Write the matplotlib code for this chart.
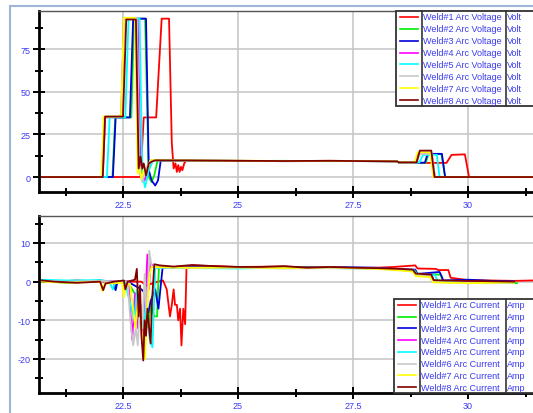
import matplotlib
matplotlib.use("Agg")
import matplotlib.pyplot as plt
from matplotlib.lines import Line2D
from matplotlib.patches import Rectangle
from matplotlib.ticker import MultipleLocator, FormatStrFormatter

W, H = 533, 414

colors = ["#ff0000", "#00ee00", "#0000dd", "#ff00ff", "#00ffff", "#c8c8c8", "#ffff00", "#800000"]
volt_names = ["Weld#%d Arc Voltage" % i for i in range(1, 9)]
amp_names = ["Weld#%d Arc Current" % i for i in range(1, 9)]
volt_unit = "Volt"
amp_unit = "Amp"

# ---- arc voltage (time s, volt) ----
v1_t = [20.67, 22.0, 22.88, 22.95, 23.22, 23.34, 23.5, 23.56, 23.6, 23.64, 23.67, 23.7, 23.73, 23.76, 23.79, 23.83, 23.88, 24.0, 25.0, 26.0, 27.0, 28.0, 28.45, 28.5, 29.53, 29.64, 29.93, 30.02, 31.41]
v1_v = [0, 0, 0, 35, 35, 93, 93, 20, 5, 8, 3, 7, 3, 6, 4, 8, 10, 9.6, 9.5, 9.4, 9.5, 9.4, 9.3, 8.3, 8.3, 13, 13.3, 0, 0]
v2_t = [20.67, 22.27, 22.33, 22.68, 22.74, 22.98, 23.06, 23.12, 23.18, 23.25, 24.0, 25.0, 26.0, 27.0, 28.0, 28.45, 28.5, 29.08, 29.14, 29.42, 29.5, 31.41]
v2_v = [0, 0, 35, 35, 93, 93, 0, -3, 1, 9.8, 9.6, 9.4, 9.5, 9.3, 9.4, 9.2, 8.4, 8.4, 13.5, 13.5, 0, 0]
v3_t = [20.67, 22.28, 22.34, 22.65, 22.72, 23.0, 23.06, 23.12, 23.2, 23.26, 23.32, 24.0, 25.0, 26.0, 27.0, 28.0, 28.45, 28.5, 29.06, 29.12, 29.43, 29.5, 31.41]
v3_v = [0, 0, 35, 35, 93, 93, 4, -2, -5, -2, 9.7, 9.6, 9.5, 9.3, 9.4, 9.3, 9.2, 8.4, 8.4, 13.6, 13.6, 0, 0]
v4_t = [20.67, 22.06, 22.11, 22.46, 22.52, 22.82, 22.88, 22.97, 23.05, 23.12, 24.0, 25.0, 26.0, 27.0, 28.0, 28.45, 28.5, 28.86, 28.92, 29.2, 29.28, 31.41]
v4_v = [0, 0, 35, 35, 93, 93, 3, -2, 4, 9.9, 9.6, 9.5, 9.4, 9.5, 9.3, 9.2, 8.5, 8.5, 14, 14, 0, 0]
v5_t = [20.67, 22.15, 22.21, 22.55, 22.62, 22.86, 22.92, 22.98, 23.05, 23.15, 24.0, 25.0, 26.0, 27.0, 28.0, 28.45, 28.5, 28.94, 29.02, 29.32, 29.38, 31.41]
v5_v = [0, 0, 35, 35, 93, 93, 1, -6, 3, 9.8, 9.6, 9.5, 9.4, 9.4, 9.3, 9.2, 8.5, 8.5, 13, 13, 0, 0]
v6_t = [20.67, 22.05, 22.1, 22.46, 22.52, 22.8, 22.86, 22.92, 23.0, 23.1, 24.0, 25.0, 26.0, 27.0, 28.0, 28.45, 28.5, 28.88, 28.95, 29.22, 29.28, 31.41]
v6_v = [0, 0, 35.5, 35.5, 93.5, 93.5, 3, -3, 5, 9.9, 9.7, 9.5, 9.4, 9.5, 9.3, 9.2, 8.5, 8.5, 13.5, 13.5, 0, 0]
v7_t = [20.67, 22.03, 22.08, 22.46, 22.52, 22.76, 22.82, 22.86, 22.9, 22.95, 23.0, 23.1, 24.0, 25.0, 26.0, 27.0, 28.0, 28.45, 28.5, 28.84, 28.9, 29.18, 29.24, 31.41]
v7_v = [0, 0, 35.5, 35.5, 93.5, 93.5, 2, 6, -1, 4, 2, 9.9, 9.7, 9.6, 9.4, 9.5, 9.3, 9.2, 8.6, 8.6, 14.5, 14.5, 0, 0]
v8_t = [20.67, 22.06, 22.11, 22.5, 22.57, 22.78, 22.84, 22.88, 22.92, 22.95, 23.0, 23.06, 23.12, 23.2, 24.0, 25.0, 26.0, 27.0, 28.0, 28.45, 28.5, 28.88, 28.95, 29.2, 29.27, 31.41]
v8_v = [0, 0, 35.5, 35.5, 92.5, 92.5, 5, 12, 5, 8, 1, 8, 9, 9.8, 9.7, 9.5, 9.4, 9.5, 9.3, 9.2, 8.6, 8.6, 15.5, 15.5, 0, 0]

# ---- arc current (time s, amp) ----
a1_t = [20.67, 21.0, 21.5, 22.0, 22.5, 22.9, 23.0, 23.26, 23.37, 23.45, 23.52, 23.56, 23.6, 23.63, 23.67, 23.7, 23.74, 23.77, 23.81, 23.85, 23.88, 24.0, 24.5, 25.0, 26.0, 27.0, 28.0, 28.4, 28.5, 28.85, 28.9, 29.3, 29.35, 29.57, 29.62, 30.0, 30.5, 31.0, 31.41]
a1_v = [0.3, 0, 0.3, 0, 0, 0, -1, 0, 0.3, -2, -9, -6, -2, -6, -6, -10, -7, -16.5, -7, -11, 3.8, 4.2, 4.0, 3.8, 3.9, 3.5, 3.6, 3.8, 3.9, 4.2, 3.4, 3.3, 3.0, 3.0, 1.0, 0.4, 0.3, 0.2, 0.3]
a2_t = [20.67, 21.3, 22.0, 22.3, 22.33, 22.37, 22.6, 22.85, 22.92, 22.98, 23.05, 23.1, 23.18, 23.24, 23.28, 24.0, 25.0, 26.0, 27.0, 28.0, 28.5, 28.85, 28.9, 29.4, 29.45, 30.0, 30.5, 31.06]
a2_v = [0.2, -0.3, 0.2, 0, -2, 0, 0, -5, -15, -8, -12, -6, -9, -9, 3.8, 3.7, 3.6, 3.7, 3.6, 3.5, 3.2, 3.0, 2.0, 1.8, 0.2, 0, -0.2, -0.4]
a3_t = [20.67, 21.3, 22.0, 22.3, 22.34, 22.38, 22.6, 22.9, 22.98, 23.05, 23.1, 23.2, 23.27, 23.32, 23.36, 24.0, 25.0, 26.0, 27.0, 28.0, 28.5, 28.85, 28.9, 29.38, 29.42, 29.46, 30.0, 30.5, 31.0]
a3_v = [0, -0.2, 0.3, 0, -2.2, 0, 0, -2, -3, -8, -5, -2, -7, -1, 3.6, 3.8, 3.7, 3.6, 3.8, 3.6, 3.2, 3.1, 2.0, 2.5, 1.5, 0.3, 0.5, 0.2, 0.1]
a4_t = [20.67, 21.3, 22.0, 22.5, 22.62, 22.7, 22.76, 22.82, 22.88, 22.94, 22.99, 23.03, 23.06, 23.1, 23.15, 24.0, 25.0, 26.0, 27.0, 28.0, 28.5, 28.82, 28.88, 29.2, 29.26, 30.0, 30.5, 31.0]
a4_v = [0.2, 0, 0.2, 0, 0, -15, -3, -12, -6, -17, -3, 7, -2, 5, 3.8, 3.6, 3.7, 3.5, 3.6, 3.5, 3.2, 3.0, 1.9, 1.8, 0.2, 0, -0.2, 0]
a5_t = [20.67, 21.3, 22.0, 22.2, 22.28, 22.33, 22.55, 22.6, 22.75, 22.8, 22.95, 23.0, 23.08, 23.14, 23.2, 23.3, 24.0, 25.0, 26.0, 27.0, 28.0, 28.5, 28.83, 28.9, 29.28, 29.34, 30.0, 30.5, 30.9]
a5_v = [0.5, 0.3, 0.4, 0, -2, 0, 0, -3, -10, -2, -12, -5, -15, -17, 3.5, 3.6, 3.5, 3.4, 3.6, 3.5, 3.4, 3.1, 2.9, 1.9, 1.7, 0.1, -0.3, -0.2, -0.4]
a6_t = [20.67, 21.3, 22.0, 22.5, 22.6, 22.66, 22.72, 22.78, 22.82, 22.87, 22.92, 22.97, 23.02, 23.07, 23.12, 23.2, 24.0, 25.0, 26.0, 27.0, 28.0, 28.5, 28.8, 28.86, 29.2, 29.26, 30.0, 30.5, 31.0]
a6_v = [0.2, 0, 0.2, 0, 0, -10, -16.5, -12, -16.5, -5, -12, 2, -10, 8, 4, 3.7, 3.5, 3.6, 3.4, 3.5, 3.3, 3.0, 2.7, 1.7, 1.5, -0.1, -0.3, -0.4, -0.3]
a7_t = [20.67, 21.3, 22.0, 22.05, 22.1, 22.48, 22.52, 22.56, 22.65, 22.7, 22.77, 22.85, 22.9, 22.98, 23.02, 23.08, 23.12, 24.0, 25.0, 26.0, 27.0, 28.0, 28.5, 28.8, 28.86, 29.18, 29.24, 30.0, 30.5, 31.0]
a7_v = [0, -0.3, 0, -2.5, -0.5, -0.3, -4, -1, -0.5, -5, -12, -2, -12, -20, -8, 2, 3.8, 3.6, 3.7, 3.5, 3.7, 3.3, 2.9, 2.6, 1.4, 1.2, -0.2, -0.4, -0.3, -0.2]
a8_t = [20.67, 21.0, 21.5, 22.0, 22.07, 22.12, 22.3, 22.52, 22.55, 22.6, 22.76, 22.8, 22.84, 22.87, 22.9, 22.94, 22.97, 23.0, 23.03, 23.06, 23.1, 23.13, 23.18, 23.3, 23.6, 24.0, 24.5, 25.0, 25.5, 26.0, 26.5, 27.0, 27.5, 28.0, 28.5, 28.8, 28.86, 29.2, 29.25, 29.5, 30.0, 30.5, 31.0]
a8_v = [0.4, 0, -0.3, 0, -2.2, -0.5, 0, 0.3, -2, 0, 0.5, 3.3, -9, -1, -14, -20.4, -10, -14, -7, -11, -16, -5, 4.5, 4.2, 3.9, 4.3, 4.0, 3.8, 3.8, 4.0, 3.6, 3.8, 3.6, 3.5, 3.3, 3.1, 2.1, 1.8, 0.4, 0.3, 0.2, 0.1, 0.0]

volt_t = [v1_t, v2_t, v3_t, v4_t, v5_t, v6_t, v7_t, v8_t]
volt_v = [v1_v, v2_v, v3_v, v4_v, v5_v, v6_v, v7_v, v8_v]
amp_t = [a1_t, a2_t, a3_t, a4_t, a5_t, a6_t, a7_t, a8_t]
amp_v = [a1_v, a2_v, a3_v, a4_v, a5_v, a6_v, a7_v, a8_v]

plt.rcParams['font.family'] = ['Liberation Sans', 'DejaVu Sans']
txt_blue = "#3a3af0"

fig = plt.figure(figsize=(W / 100, H / 100), dpi=100)
fig.patch.set_facecolor("white")


def fx(px):
    return px / W


def fy(py):
    return 1 - py / H


# outer panel frame
fig.add_artist(Rectangle((fx(10), fy(420)), 1.2, fy(7) - fy(420), transform=fig.transFigure,
                         fill=False, edgecolor="#9fb4d6", lw=1.5))

ax1 = fig.add_axes([fx(39), fy(193), 1 - fx(39), fy(12) - fy(193)])
ax2 = fig.add_axes([fx(39), fy(394), 1 - fx(39), fy(217.3) - fy(394)])


def style(ax, ylo, yhi, ymaj, ymin):
    ax.set_xlim(20.674, 31.41)
    ax.set_ylim(ylo, yhi)
    ax.xaxis.set_major_locator(MultipleLocator(2.5))
    ax.xaxis.set_minor_locator(MultipleLocator(1.25))
    ax.yaxis.set_major_locator(MultipleLocator(ymaj))
    ax.yaxis.set_minor_locator(MultipleLocator(ymin))
    ax.xaxis.set_major_formatter(FormatStrFormatter("%g"))
    ax.yaxis.set_major_formatter(FormatStrFormatter("%g"))
    ax.grid(True, which="major", color="#c8c8c8", lw=1.2)
    ax.set_axisbelow(True)
    ax.tick_params(which="major", direction="inout", length=8, width=1.4, color="black",
                   labelsize=6.5, labelcolor=txt_blue, pad=2)
    ax.tick_params(which="minor", direction="inout", length=6, width=1.4, color="black")
    for s in ["left", "bottom"]:
        ax.spines[s].set_linewidth(2)
        ax.spines[s].set_color("black")
    ax.spines["top"].set_linewidth(1)
    ax.spines["top"].set_color("#555555")
    ax.spines["right"].set_visible(False)


def legend(top, bot, left, d1, d2, names, unit):
    fig.add_artist(Rectangle((fx(left), fy(bot)), 1.2, fy(top) - fy(bot), transform=fig.transFigure,
                             facecolor="white", edgecolor="#333333", lw=1.3, zorder=5))
    for xd in [d1, d2]:
        fig.add_artist(Line2D([fx(xd), fx(xd)], [fy(top), fy(bot)], transform=fig.transFigure,
                              color="#333333", lw=1.2, zorder=6))
    step = (bot - top) / len(names)
    for i, (n, c) in enumerate(zip(names, colors)):
        yc = fy(top + step * (i + 0.5))
        fig.add_artist(Line2D([fx(left + 4), fx(d1 - 4)], [yc, yc], transform=fig.transFigure,
                              color=c, lw=1.2, zorder=6))
        fig.text(fx(d1 + 1.5), yc, n, color=txt_blue, fontsize=6.5, va="center", zorder=7)
        fig.text(fx(d2 + 1.5), yc, unit, color=txt_blue, fontsize=6.5, va="center", zorder=7)


style(ax1, -8.8, 97.5, 25, 12.5)
style(ax2, -28.8, 16.9, 10, 5)

for t, v, c in zip(volt_t, volt_v, colors):
    ax1.plot(t, v, color=c, lw=1.3)
for t, v, c in zip(amp_t, amp_v, colors):
    ax2.plot(t, v, color=c, lw=1.3)

legend(12, 107, 395.7, 421.7, 505.7, volt_names, volt_unit)
legend(300, 394, 394, 419.7, 505.7, amp_names, amp_unit)

fig.savefig("out.png", dpi=100)
